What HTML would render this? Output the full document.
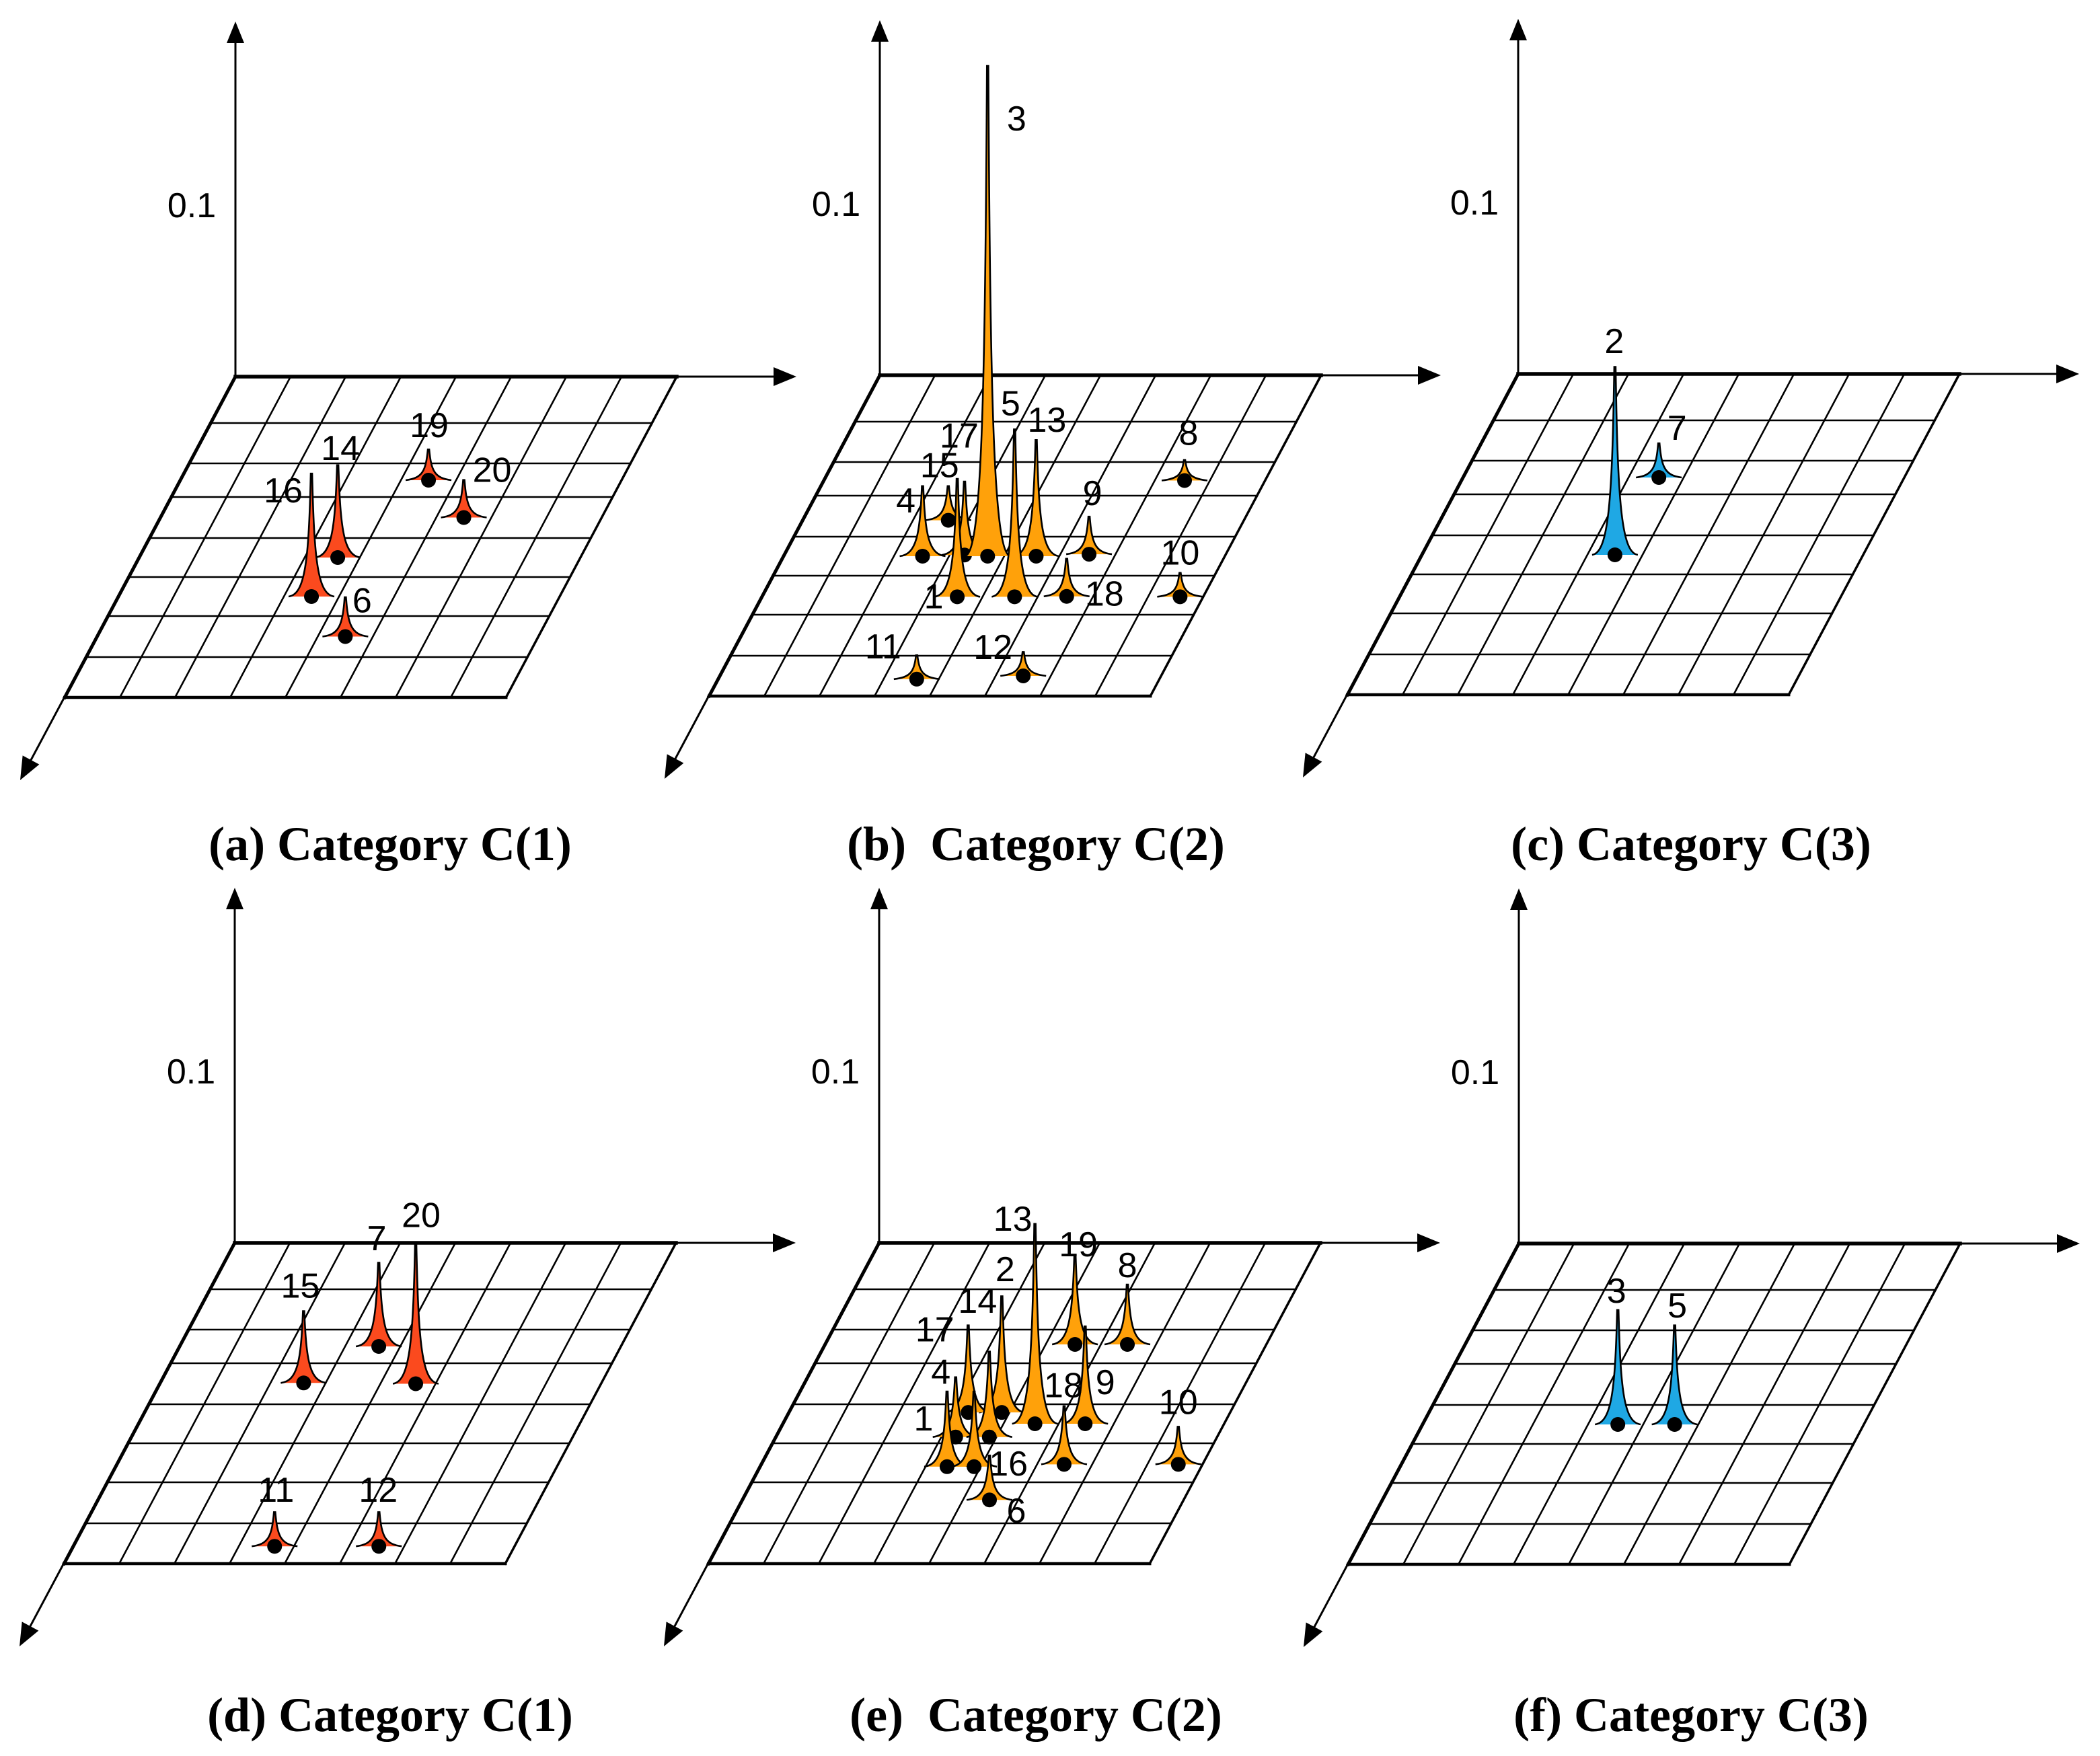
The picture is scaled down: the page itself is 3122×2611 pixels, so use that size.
<!DOCTYPE html>
<html><head><meta charset="utf-8"><style>html,body{margin:0;padding:0;background:#fff}svg{display:block}</style></head>
<body>
<svg id="chart" xmlns="http://www.w3.org/2000/svg" width="3122" height="2611" viewBox="0 0 3122 2611"></svg>
<script>
// ---- data (grid column u, grid row v, value) ----
const aIds=["16","14","19","20","6"];
const aU=[3.5,3.6,4.5,5.5,4.5];
const aV=[5.5,4.5,2.5,3.5,6.5];
const aVal=[0.072,0.054,0.018,0.022,0.023];

const bIds=["4","15","17","3","1","5","13","9","18","8","10","11","12"];
const bU=[2.52,2.64,3.27,3.7,3.54,4.58,4.58,5.52,5.52,6.54,7.58,3.6,5.5];
const bV=[4.5,3.6,4.47,4.5,5.54,5.54,4.5,4.45,5.53,2.55,5.54,7.58,7.5];
const bVal=[0.041,0.020,0.043,0.287,0.069,0.098,0.068,0.022,0.022,0.012,0.014,0.014,0.014];

const cIds=["2","7"];
const cU=[3.5,3.55];
const cV=[4.5,2.5];
const cVal=[0.110,0.020];

const dIds=["15","7","20","11","12"];
const dU=[2.6,3.61,4.64,3.65,5.54];
const dV=[3.48,2.5,3.5,7.57,7.57];
const dVal=[0.042,0.049,0.081,0.020,0.020];

const eIds=["13","19","8","2","14","4","17","1","16","6","18","9","10"];
const eU=[4.57,4.53,5.48,3.86,3.25,3.26,3.87,3.39,3.88,4.48,5.49,5.48,7.56];
const eV=[4.5,2.44,2.44,4.21,4.21,4.84,4.84,5.6,5.6,6.43,5.54,4.5,5.54];
const eVal=[0.117,0.052,0.035,0.068,0.051,0.035,0.050,0.044,0.044,0.026,0.034,0.057,0.022];

const fIds=["3","5"];
const fU=[3.54,4.57];
const fV=[4.5,4.5];
const fVal=[0.067,0.058];

const titles=["(a) Category C(1)","(b)  Category C(2)","(c) Category C(3)","(d) Category C(1)","(e)  Category C(2)","(f) Category C(3)"];
const tickLabel="0.1";
const tickValue=0.1;

// ---- layout (not data) ----
const labelOff={
 a:[[-42,-157],[4,-162],[1,-81],[42,-70],[25,-53]],
 b:[[-25,-82],[-13,-81],[-8,-177],[43,-650],[-35,0],[-6,-287],[16,-202],[5,-90],[56,-3],[6,-70],[0,-65],[-50,-48],[-45,-42]],
 c:[[-1,-317],[27,-73]],
 d:[[-5,-144],[-3,-160],[8,-250],[2,-83],[-1,-83]],
 e:[[-33,-304],[5,-148],[0,-117],[5,-212],[14,-165],[-22,-96],[-81,-159],[-35,-71],[51,-4],[40,17],[-1,-117],[30,-61],[0,-92]],
 f:[[-2,-198],[4,-176]]
};
const rowsRel=[0,69,129,179,240,298,356,417,477];
const cellW=82, skew=0.532, pxPerUnit=2540;
const NS="http://www.w3.org/2000/svg";
const svg=document.getElementById('chart');
function mk(tag,attrs,parent){const e=document.createElementNS(NS,tag);for(const k in attrs)e.setAttribute(k,attrs[k]);(parent||svg).appendChild(e);return e;}
function yScale(oy,v){const i=Math.max(0,Math.min(7,Math.floor(v)));return oy+rowsRel[i]+(rowsRel[i+1]-rowsRel[i])*(v-i);}
function xScale(ox,oy,u,y){return ox-skew*(y-oy)+cellW*u;}
function hScale(val){return val*pxPerUnit;}

const panels=[
 {k:'a',ox:350,oy:560,ids:aIds,u:aU,v:aV,val:aVal,col:'#fb4a1e',tx:580,ty:1255},
 {k:'b',ox:1308,oy:558,ids:bIds,u:bU,v:bV,val:bVal,col:'#ffa10a',tx:1540,ty:1255},
 {k:'c',ox:2257,oy:556,ids:cIds,u:cU,v:cV,val:cVal,col:'#1fa8e4',tx:2514,ty:1255},
 {k:'d',ox:349,oy:1848,ids:dIds,u:dU,v:dV,val:dVal,col:'#fb4a1e',tx:580,ty:2550},
 {k:'e',ox:1307,oy:1848,ids:eIds,u:eU,v:eV,val:eVal,col:'#ffa10a',tx:1540,ty:2550},
 {k:'f',ox:2258,oy:1849,ids:fIds,u:fU,v:fV,val:fVal,col:'#1fa8e4',tx:2514,ty:2550}
];

panels.forEach((p,pi)=>{
 const g=mk('g',{});
 
 
 const {ox,oy}=p;
 const ax=mk('g',{stroke:'#000','stroke-width':3,fill:'none'},g);
 
 
 mk('line',{x1:ox,y1:oy,x2:ox,y2:oy-500},ax);
 mk('line',{x1:ox,y1:oy,x2:ox+805,y2:oy},ax);
 const dx=-320,dy=600,len=Math.hypot(dx,dy);
 const ex=ox+dx*(1-30/len), ey=oy+dy*(1-30/len);
 mk('line',{x1:ox,y1:oy,x2:ex,y2:ey},ax);
 const ah=mk('g',{fill:'#000'},g);
 
 
 mk('polygon',{points:`${ox},${oy-528} ${ox-13},${oy-496} ${ox+13},${oy-496}`},ah);
 mk('polygon',{points:`${ox+834},${oy} ${ox+800},${oy-14} ${ox+800},${oy+14}`},ah);
 const tx=ox+dx,ty=oy+dy,ux=dx/len,uy=dy/len;
 mk('polygon',{points:`${tx},${ty} ${tx-ux*34-uy*14},${ty-uy*34+ux*14} ${tx-ux*34+uy*14},${ty-uy*34-ux*14}`},ah);
 const tl=mk('text',{x:ox-65,y:oy-hScale(tickValue),'font-family':'Liberation Sans, sans-serif','font-size':52,'text-anchor':'middle','dominant-baseline':'central',fill:'#000'},g);
 
 
 tl.textContent=tickLabel;
 const gr=mk('g',{stroke:'#000',fill:'none','stroke-linecap':'square'},g);
 
 
 for(let i=0;i<=8;i++){
  const y=yScale(oy,i);
  const w=(i==0)?5.5:(i==8?4.5:2.6);
  mk('line',{x1:xScale(ox,oy,0,y),y1:y,x2:xScale(ox,oy,8,y),y2:y,'stroke-width':w},gr);
 }
 for(let j=0;j<=8;j++){
  const y0=yScale(oy,0),y1=yScale(oy,8);
  const w=(j==0)?5:(j==8?3.5:2.6);
  mk('line',{x1:xScale(ox,oy,j,y0),y1:y0,x2:xScale(ox,oy,j,y1),y2:y1,'stroke-width':w},gr);
 }
 const order=p.ids.map((_,i)=>i).sort((a,b)=>p.v[a]-p.v[b]);
 order.forEach(i=>{
  const y0=yScale(oy,p.v[i]);
  const x=xScale(ox,oy,p.u[i],y0);
  const h=hScale(p.val[i]);
  const w=34;
  const pg=mk('g',{},g);
  
  
  const d=`M${x-w},${y0} C${x-9},${y0-3} ${x-4},${y0-0.3*h} ${x-1},${y0-h} L${x+1},${y0-h} C${x+4},${y0-0.3*h} ${x+9},${y0-3} ${x+w},${y0}`;
  mk('path',{d:d+' Z',fill:p.col,stroke:'none'},pg);
  mk('path',{d:d,fill:'none',stroke:'#000','stroke-width':2.6},pg);
  mk('circle',{cx:x,cy:y0,r:11,fill:'#000'},pg);
  const off=labelOff[p.k][i];
  const lb=mk('text',{x:x+off[0],y:y0+off[1],'font-family':'Liberation Sans, sans-serif','font-size':52,'text-anchor':'middle','dominant-baseline':'central',fill:'#000'},g);
  
  
  lb.textContent=p.ids[i];
 });
 const tt=mk('text',{x:p.tx,y:p.ty,'font-family':'Liberation Serif, serif','font-weight':'bold','font-size':72,'text-anchor':'middle','dominant-baseline':'central',fill:'#000'},g);
 
 
 tt.setAttribute('xml:space','preserve');
 tt.style.whiteSpace='pre';
 tt.textContent=titles[pi];
});
</script>
</body></html>
